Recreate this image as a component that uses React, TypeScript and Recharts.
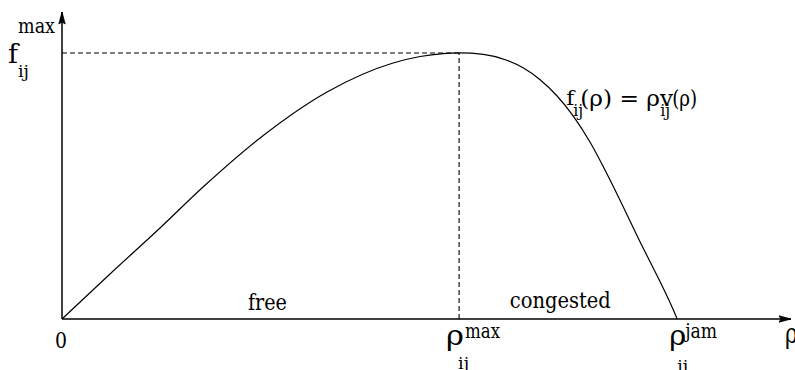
import React from "react";
import { ComposedChart, Line, XAxis, YAxis, ReferenceLine, ReferenceDot } from "recharts";

// density (as % of jam density) and flow (as % of max flow)
const RHO = [0, 7.8, 15.93, 22.93, 32.2, 43.09, 53.82, 58.21, 61.95, 64.55, 68.5, 72.31, 75.01, 77.72, 80.44, 83.14, 85.85, 88.57, 93.98, 99.4, 100];
const FLOW = [0, 16.92, 34.21, 49.62, 68.05, 85.34, 96.24, 98.68, 99.77, 100, 99.44, 97.26, 94.32, 89.96, 83.91, 76.2, 66.43, 54.62, 28.95, 3.27, 0];

const RHO_MAX = 64.55;
const RHO_JAM = 100;
const F_MAX = 100;
const X_END = 118.5;
const Y_END = 115.4;

const REGION_LABELS = ["free", "congested"];
const REGION_X = [33.4, 81.0];
const FORMULA_POS = { x: 81.8, y: 80.5 };

const data = RHO.map((r, i) => ({ rho: r, flow: FLOW[i] }));

const FONT = "'DejaVu Serif', 'Liberation Serif', 'Times New Roman', Times, serif";

type Part = {
  text: string;
  dx: number;
  dy: number;
  size: number;
  len?: number;
  anchor?: "start" | "middle" | "end";
};

const label = (key: string, x: number, y: number, parts: Part[]) => (
  <ReferenceDot
    key={key}
    x={x}
    y={y}
    r={0}
    ifOverflow="visible"
    isFront
    shape={(p: any) => (
      <g>
        {parts.map((t, i) => (
          <text
            key={i}
            x={p.cx + t.dx}
            y={p.cy + t.dy}
            fill="#000"
            fontFamily={FONT}
            fontSize={t.size}
            textAnchor={t.anchor || "start"}
            {...(t.len ? { textLength: t.len, lengthAdjust: "spacingAndGlyphs" } : {})}
          >
            {t.text}
          </text>
        ))}
      </g>
    )}
  />
);

const arrow = (key: string, x: number, y: number, dir: "up" | "right") => (
  <ReferenceDot
    key={key}
    x={x}
    y={y}
    r={0}
    ifOverflow="visible"
    isFront
    shape={(p: any) => {
      const cx = p.cx;
      const cy = p.cy;
      const pts =
        dir === "up"
          ? `${cx},${cy} ${cx - 3.2},${cy + 12} ${cx},${cy + 10} ${cx + 3.2},${cy + 12}`
          : `${cx},${cy} ${cx - 12},${cy - 3.2} ${cx - 10},${cy} ${cx - 12},${cy + 3.2}`;
      return <polygon points={pts} fill="#000" stroke="#000" strokeWidth={0.8} />;
    }}
  />
);

export default function App() {
  return (
    <div
      style={{
        position: "absolute",
        left: 0,
        top: 0,
        width: 795,
        height: 370,
        background: "#fff",
      }}
    >
      <ComposedChart
        width={795}
        height={370}
        data={data}
        margin={{ top: 12, right: 4, bottom: 51, left: 62 }}
      >
        <XAxis dataKey="rho" type="number" domain={[0, X_END]} hide />
        <YAxis type="number" domain={[0, Y_END]} hide />
        <ReferenceLine
          segment={[{ x: 0, y: F_MAX }, { x: RHO_MAX, y: F_MAX }]}
          stroke="#000"
          strokeWidth={1.1}
          strokeDasharray="5 3"
          ifOverflow="visible"
        />
        <ReferenceLine
          segment={[{ x: RHO_MAX, y: 0 }, { x: RHO_MAX, y: F_MAX }]}
          stroke="#000"
          strokeWidth={1.1}
          strokeDasharray="5 3"
          ifOverflow="visible"
        />
        <ReferenceLine y={0} stroke="#000" strokeWidth={1.5} ifOverflow="visible" />
        <ReferenceLine x={0} stroke="#000" strokeWidth={1.5} ifOverflow="visible" />
        <Line
          type="monotone"
          dataKey="flow"
          stroke="#000"
          strokeWidth={1.2}
          dot={false}
          isAnimationActive={false}
        />
        {arrow("ay", 0, Y_END, "up")}
        {arrow("ax", X_END, 0, "right")}
        {label("fmax", 0, F_MAX, [
          { text: "f", dx: -54, dy: 10, size: 26, len: 10 },
          { text: "max", dx: -44, dy: -20, size: 20, len: 37 },
          { text: "ij", dx: -44, dy: 24, size: 16, len: 11 },
        ])}
        {label("zero", 0, 0, [{ text: "0", dx: -7, dy: 29, size: 22, len: 12 }])}
        {label("rhomax", RHO_MAX, 0, [
          { text: "ρ", dx: -13, dy: 26, size: 28, len: 18 },
          { text: "max", dx: 6, dy: 19, size: 20, len: 35 },
          { text: "ij", dx: -1, dy: 50, size: 16, len: 11 },
        ])}
        {label("rhojam", RHO_JAM, 0, [
          { text: "ρ", dx: -8, dy: 26, size: 28, len: 17 },
          { text: "jam", dx: 8, dy: 19, size: 20, len: 32 },
          { text: "ij", dx: 0, dy: 53, size: 16, len: 11 },
        ])}
        {label("rho", X_END, 0, [{ text: "ρ", dx: -6, dy: 24, size: 28, len: 13 }])}
        {REGION_LABELS.map((t, i) =>
          label("reg" + i, REGION_X[i], 0, [
            {
              text: t,
              dx: i === 0 ? -19.5 : -50.5,
              dy: i === 0 ? -9 : -11,
              size: 22,
              len: i === 0 ? 39 : 101,
            },
          ])
        )}
        {label("formula", FORMULA_POS.x, FORMULA_POS.y, [
          { text: "f", dx: 1, dy: 0, size: 21, len: 8 },
          { text: "ij", dx: 8, dy: 11, size: 16, len: 10 },
          { text: "(ρ) = ρv", dx: 15, dy: 1, size: 22, len: 93 },
          { text: "ij", dx: 95, dy: 11, size: 16, len: 10 },
          { text: "(ρ)", dx: 107, dy: 1, size: 22, len: 25 },
        ])}
      </ComposedChart>
    </div>
  );
}
